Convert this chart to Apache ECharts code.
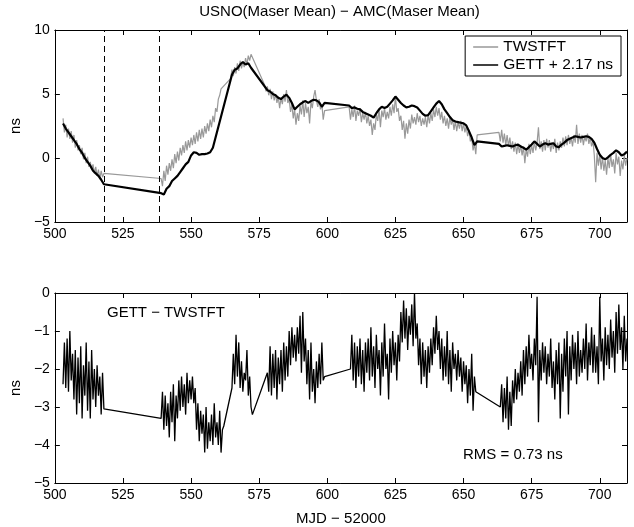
<!DOCTYPE html>
<html><head><meta charset="utf-8">
<script src="https://cdn.jsdelivr.net/npm/echarts@6/dist/echarts.min.js"></script>
<style>html,body{margin:0;padding:0;background:#fff}#c{width:634px;height:527px}</style>
</head><body><div id="c"></div>
<script>
// ---------------- data (MJD - 52000) ----------------
const xTickInterval = 25;
const xMin = 500, xMax = 710;
const topYTicks = [-5, 0, 5, 10];
const botYTicks = [-5, -4, -3, -2, -1, 0];

// TWSTFT (grey), half-day samples, segments: [startMJD, values]
const HALF = 0.5;
const twstftA = [3.1,2.0,2.6,1.6,2.3,1.5,2.1,1.2,1.8,0.8,1.4,0.6,1.0,0.3,0.8,-0.1,0.4,-0.4,0.1,-0.7,-0.3,-0.9,-0.5,-1.2,-0.7,-1.4,-0.9,-1.6,-1.0,-1.5,-1.2];
const twstftB = [-1.6,-2.2,-1.0,-1.8,-0.6,-1.3,-0.4,-1.0,-0.1,-0.8,0.3,-0.4,0.5,-0.2,0.8,0.2,1.0,0.4,1.3,0.6,1.4,0.8,1.6,1.0,1.8,1.1,2.0,1.3,2.2,1.5,2.3,1.6,2.5,1.9,2.7,2.1,3.0,2.4,3.3,2.8,3.9,3.6,4.6,4.9,5.4];
const twstftC = [6.2,6.9,6.4,7.1,6.6,7.4,6.8,7.6,7.0,7.5,7.1,7.8,7.3,8.0,7.6,8.1];
const twstftD = [5.7,5.2,5.6,4.9,5.4,4.6,5.2,4.5,5.0,4.3,4.8,3.9,4.7,4.2,5.0,4.4,5.3,4.3,4.6,3.6,4.2,3.1,3.8,2.6,3.5,2.9,4.1,3.4,4.5,3.2,4.3,3.5,4.0,2.7,4.4,3.9,4.8,5.3,4.5,4.0,4.6,3.8,4.2,3.0,3.7];
const twstftE = [4.0,3.0,3.8,3.2,4.1,2.9,3.7,3.3,3.9,2.8,3.5,3.0,3.6,2.7,3.3,2.5,3.0,1.8,2.7,2.2,3.4,2.9,3.8,2.4,3.7,3.2,3.9,3.0,3.6,3.1,4.0,3.3,4.2,3.5,4.8,3.6,3.9,2.9,3.3,2.2,2.9,1.5,2.7,1.9,3.0,2.3,3.4,2.7,3.2,2.6,3.5,2.8,3.3,2.5,3.1,2.6,3.2,2.4,3.4,2.7,3.5,2.9,3.8,3.2,4.0,3.3,3.9,3.0,3.6,2.7,3.3,2.5,3.1,2.3,3.2,2.6,3.0,2.2,2.9,2.1,2.8,2.3,2.9,2.1,2.7,2.0,2.5,1.7,2.2,1.3,1.6,0.6,1.1,0.3,1.8];
const twstftF = [2.0,1.3,2.2,1.2,1.9,1.0,1.8,0.9,1.6,0.7,1.3,0.5,1.2,0.3,1.1,0.4,1.0,0.2,0.9,-0.4,0.7,0.1,1.1,0.3,1.0,0.4,1.3,0.6,1.2,2.4,0.7,1.3,0.5,1.4,0.6,1.5,0.8,1.4,0.5,1.2,0.7,1.5,0.4,1.2,0.6,1.3,0.8,1.6,0.9,1.7,1.0,1.8,1.1,1.6,0.9,1.8,1.2,2.6,1.1,1.9,1.2,1.8,1.0,1.7,1.3,1.9,1.1,1.6,0.9,1.4,0.2,-1.9,0.4,-0.6,0.3,-0.9,0.1,-1.0,-0.2,-1.3,0.0,-0.8,0.3,-0.7,-0.1,-1.2,0.4,-0.5,0.1,-1.4,-0.2,-0.9,0.2,-0.6,0.0];
const twstftSegStarts = [503, 539, 564.5, 577, 608, 663];

// GETT + 2.17 ns (black), daily samples
const DAY = 1;
const gettA = [2.7,2.3,2.0,1.7,1.4,1.1,0.7,0.4,0.0,-0.3,-0.6,-1.0,-1.2,-1.4,-1.7,-2.05];
const gettB = [-2.75,-2.85,-2.4,-2.2,-1.8,-1.6,-1.4,-1.1,-0.8,-0.5,-0.3,0.2,0.45,0.4,0.25,0.3,0.3,0.35,0.45,0.8];
const gettC = [6.5,6.9,7.0,7.3,7.5,7.3,7.4,7.05];
const gettD = [5.3,5.2,5.0,4.9,4.7,4.6,4.8,4.95,4.7,4.3,3.8,4.0,4.2,4.35,4.45,4.3,4.45,4.55,4.5,4.35,4.0,4.3];
const gettE = [4.1,3.9,3.95,3.85,3.8,3.6,3.5,3.4,3.3,3.15,3.5,3.8,4.0,3.9,4.0,4.25,4.5,4.8,4.55,4.3,4.1,3.95,4.0,4.1,4.05,3.95,3.7,3.45,3.3,3.35,3.65,3.95,4.25,4.45,4.2,3.8,3.5,3.2,2.95,2.85,2.8,2.75,2.7,2.55,2.1,1.6,1.0,1.3];
const gettF = [1.1,0.9,0.95,1.0,0.95,0.9,1.0,1.05,0.9,0.8,0.65,0.85,1.05,1.3,1.1,0.9,1.05,1.15,1.05,1.1,1.15,0.9,0.85,1.05,1.2,1.4,1.5,1.6,1.7,1.65,1.6,1.65,1.7,1.65,1.5,1.2,0.7,0.25,0.0,-0.1,0.05,0.25,0.4,0.6,0.45,0.2,0.3,0.5];
const gettSegStarts = [503, 539, 565, 578, 608, 663];

// GETT - TWSTFT (bottom panel), half-day samples
const diffA = [-2.4,-1.3,-2.5,-1.2,-2.6,-1.0,-2.3,-1.6,-2.8,-1.5,-3.2,-1.7,-2.9,-1.4,-3.3,-1.9,-2.7,-1.3,-3.1,-1.8,-3.3,-1.5,-2.8,-2.0,-3.0,-1.9,-2.7,-2.2,-3.2,-2.1,-3.05];
const diffB = [-3.3,-2.6,-3.6,-2.7,-3.5,-2.9,-3.8,-2.6,-3.4,-2.4,-3.9,-2.7,-3.3,-2.3,-3.1,-2.2,-3.0,-2.4,-3.2,-2.1,-2.9,-2.3,-2.8,-2.2,-2.9,-2.5,-3.6,-2.9,-3.9,-3.1,-3.7,-3.2,-4.2,-3.0,-4.1,-3.4,-3.9,-3.2,-4.0,-2.9,-3.8,-3.4,-4.0,-3.1,-4.2,-3.6,-3.5];
const diffC = [-2.5,-1.6,-2.4,-1.1,-2.2,-1.3,-2.5,-1.8,-2.6,-2.1,-2.3,-1.5,-2.7,-2.2,-3.0,-3.2];
const diffD = [-2.1,-2.6,-1.4,-2.7,-1.6,-2.5,-1.5,-2.8,-1.7,-2.4,-1.5,-2.6,-1.3,-2.3,-1.4,-2.2,-1.0,-1.9,-0.9,-1.7,-1.1,-1.8,-0.9,-1.6,-0.6,-2.1,-0.5,-1.8,-1.2,-2.4,-1.5,-2.8,-1.3,-2.6,-2.0,-2.9,-1.8,-2.5,-1.6,-2.4,-1.3,-2.3,-2.2];
const diffE = [-2.0,-1.1,-2.3,-1.3,-2.5,-1.4,-2.2,-1.2,-2.4,-1.5,-2.6,-1.3,-2.1,-1.2,-2.3,-0.9,-2.2,-1.4,-2.5,-1.1,-2.0,-1.5,-2.7,-1.3,-2.2,-0.8,-2.0,-1.6,-2.8,-1.2,-2.1,-1.0,-1.9,-1.3,-2.3,-1.1,-1.8,-0.5,-1.3,-0.2,-1.2,-0.4,-1.5,-0.6,-1.1,-0.3,-1.4,0.0,-1.2,-0.8,-1.9,-1.2,-2.4,-1.3,-2.2,-1.5,-2.5,-1.4,-2.1,-1.2,-1.9,-0.9,-1.6,-0.6,-1.5,-1.0,-2.0,-1.2,-2.3,-1.4,-2.2,-1.0,-2.4,-1.5,-2.6,-1.3,-2.0,-1.6,-2.3,-1.5,-2.2,-1.7,-2.6,-1.8,-2.4,-1.9,-2.9,-2.0,-2.7,-1.6,-3.1,-2.2,-2.6];
const diffF = [-3.0,-2.4,-3.4,-2.5,-3.3,-2.2,-3.6,-2.6,-3.5,-2.3,-2.9,-2.0,-2.8,-2.1,-2.6,-1.8,-2.7,-1.5,-2.4,-1.4,-2.2,-1.1,-2.0,-1.6,-2.3,-1.2,-1.9,-0.1,-3.4,-1.5,-2.3,-1.3,-2.1,-1.4,-2.4,-1.6,-2.2,-1.2,-2.5,-1.8,-2.8,-1.5,-2.4,-1.3,-3.3,-1.6,-2.6,-1.2,-2.2,-1.0,-3.2,-1.4,-2.3,-1.1,-2.0,-1.3,-2.4,-1.0,-2.2,-1.5,-2.1,-1.2,-2.0,-0.8,-2.3,-1.3,-1.9,-0.9,-2.1,-1.1,-2.1,-1.4,-2.4,-0.1,-1.8,-1.2,-2.3,-0.9,-1.9,-1.1,-2.0,-0.7,-1.7,-1.0,-2.1,-0.5,-1.6,-0.3,-1.5,-0.9,-2.0,-0.6,-1.8,-1.2];
const diffSegStarts = [503, 539, 565, 578, 608.5, 663.5];

// dashed marker epochs
const markerMJD = [518, 538.4];

// ---------------- build ----------------
function build(starts, segs, step) {
  const out = [];
  segs.forEach((vals, k) => vals.forEach((v, i) => out.push([+(starts[k] + i * step).toFixed(3), v])));
  return out;
}
const twstftData = build(twstftSegStarts, [twstftA, twstftB, twstftC, twstftD, twstftE, twstftF], HALF);
const gettData = build(gettSegStarts, [gettA, gettB, gettC, gettD, gettE, gettF], DAY);
const diffData = build(diffSegStarts, [diffA, diffB, diffC, diffD, diffE, diffF], HALF);

const FONT = '"Liberation Sans", Arial, Helvetica, sans-serif';
const minus = v => String(v).replace('-', '\u2212');

function xAx(grid, pos, labels, extra) {
  return Object.assign({
    gridIndex: grid, type: 'value', position: pos, min: xMin, max: xMax, interval: xTickInterval,
    axisLine: { show: true, onZero: false, lineStyle: { color: '#000', width: 1 } },
    axisTick: { show: true, inside: true, length: 5, lineStyle: { color: '#000' } },
    axisLabel: { show: labels, showMaxLabel: false, color: '#000', fontSize: 14, fontFamily: FONT, margin: 5, formatter: minus },
    splitLine: { show: false }
  }, extra || {});
}
function yAx(grid, pos, labels, ticks, extra) {
  return Object.assign({
    gridIndex: grid, type: 'value', position: pos, min: ticks[0], max: ticks[ticks.length - 1],
    interval: ticks[1] - ticks[0],
    axisLine: { show: true, onZero: false, lineStyle: { color: '#000', width: 1 } },
    axisTick: { show: true, inside: true, length: 5, lineStyle: { color: '#000' } },
    axisLabel: { show: labels, color: '#000', fontSize: 14, fontFamily: FONT, margin: 5, formatter: minus },
    splitLine: { show: false }
  }, extra || {});
}
const yName = { name: 'ns', nameLocation: 'middle', nameGap: 27, nameRotate: 90,
  nameTextStyle: { color: '#000', fontSize: 15, fontFamily: FONT } };

const chart = echarts.init(document.getElementById('c'), null, { renderer: 'canvas' });
chart.setOption({
  animation: false,
  backgroundColor: '#fff',
  grid: [
    { left: 52, top: 30, width: 575, height: 192 },
    { left: 52, top: 293, width: 575, height: 191 }
  ],
  xAxis: [
    xAx(0, 'bottom', true),
    xAx(0, 'top', false),
    xAx(1, 'bottom', true, { name: 'MJD \u2212 52000', nameLocation: 'middle', nameGap: 28,
      nameTextStyle: { color: '#000', fontSize: 15, fontFamily: FONT } }),
    xAx(1, 'top', false)
  ],
  yAxis: [
    yAx(0, 'left', true, topYTicks, yName),
    yAx(0, 'right', false, topYTicks),
    yAx(1, 'left', true, botYTicks, yName),
    yAx(1, 'right', false, botYTicks)
  ],
  legend: {
    data: [
      { name: 'TWSTFT', icon: 'rect', itemStyle: { color: '#999' } },
      { name: 'GETT + 2.17 ns', icon: 'rect', itemStyle: { color: '#000' } }
    ],
    orient: 'vertical', right: 13, top: 36,
    backgroundColor: '#fff', borderColor: '#000', borderWidth: 1,
    padding: [3, 8, 3, 8], itemGap: 2, itemWidth: 25, itemHeight: 1.5,
    textStyle: { color: '#000', fontSize: 15.5, fontFamily: FONT, lineHeight: 16 }
  },
  graphic: [
    { type: 'text', x: 339.5, y: 12, style: { text: 'USNO(Maser Mean) \u2212 AMC(Maser Mean)', font: '15px ' + FONT, fill: '#000', textAlign: 'center', textVerticalAlign: 'middle' } },
    { type: 'text', x: 107, y: 313, style: { text: 'GETT \u2212 TWSTFT', font: '15px ' + FONT, fill: '#000', textVerticalAlign: 'middle' } },
    { type: 'text', x: 463, y: 455, style: { text: 'RMS = 0.73 ns', font: '15px ' + FONT, fill: '#000', textVerticalAlign: 'middle' } }
  ],
  series: [
    {
      name: 'TWSTFT', type: 'line', xAxisIndex: 0, yAxisIndex: 0, data: twstftData,
      symbol: 'none', showSymbol: false, lineStyle: { color: '#999', width: 1.2 }, itemStyle: { color: '#999' },
      markLine: {
        silent: true, symbol: ['none', 'none'], label: { show: false },
        lineStyle: { color: '#000', width: 1, type: [6, 4] },
        data: markerMJD.map(m => ({ xAxis: m }))
      }
    },
    {
      name: 'GETT + 2.17 ns', type: 'line', xAxisIndex: 0, yAxisIndex: 0, data: gettData,
      symbol: 'none', showSymbol: false, lineStyle: { color: '#000', width: 2.2 }, itemStyle: { color: '#000' }
    },
    {
      name: 'GETT \u2212 TWSTFT', type: 'line', xAxisIndex: 2, yAxisIndex: 2, data: diffData,
      symbol: 'none', showSymbol: false, lineStyle: { color: '#000', width: 1.3 }, itemStyle: { color: '#000' }
    }
  ]
});
</script>
</body></html>
